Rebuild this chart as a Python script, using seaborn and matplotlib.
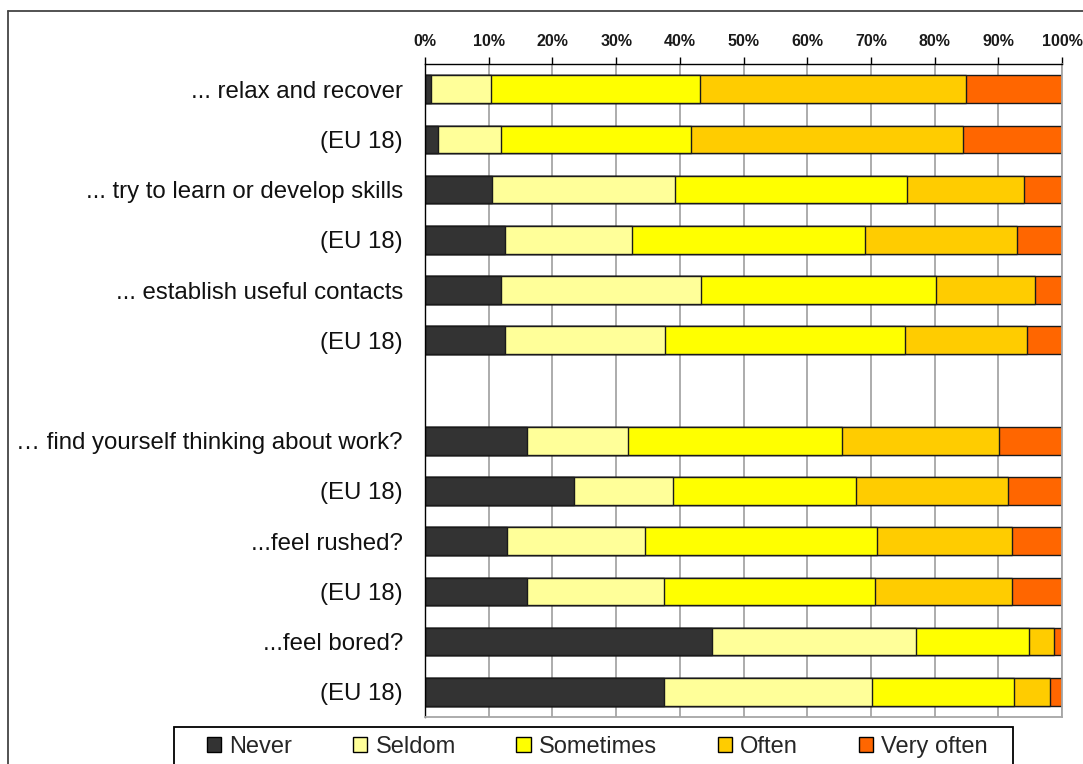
import matplotlib
matplotlib.use("Agg")
import matplotlib.pyplot as plt
from matplotlib.patches import Patch, Rectangle
from matplotlib.lines import Line2D
import seaborn as sns
import pandas as pd
import numpy as np

# ---- data ----
row_labels = [
    "... relax and recover", "(EU 18)",
    "... try to learn or develop skills", "(EU 18)",
    "... establish useful contacts", "(EU 18)",
    "",
    "\u2026 find yourself thinking about work?", "(EU 18)",
    "...feel rushed?", "(EU 18)",
    "...feel bored?", "(EU 18)",
]
categories = ["Never", "Seldom", "Sometimes", "Often", "Very often"]
never      = [0.9, 2.1, 10.5, 12.5, 12.0, 12.5, None, 16.0, 23.4, 12.8, 16.0, 45.0, 37.5]
seldom     = [9.4, 9.9, 28.7, 20.0, 31.4, 25.2, None, 15.8, 15.5, 21.7, 21.5, 32.1, 32.6]
sometimes  = [32.9, 29.7, 36.4, 36.6, 36.8, 37.7, None, 33.6, 28.8, 36.5, 33.1, 17.7, 22.4]
often      = [41.8, 42.7, 18.5, 23.8, 15.6, 19.1, None, 24.7, 23.9, 21.2, 21.6, 4.0, 5.6]
very_often = [15.0, 15.6, 5.9, 7.1, 4.2, 5.5, None, 9.9, 8.4, 7.8, 7.8, 1.2, 1.9]
x_ticks = [0, 10, 20, 30, 40, 50, 60, 70, 80, 90, 100]

colors = ["#333333", "#FFFF99", "#FFFF00", "#FFCC00", "#FF6600"]

# ---- build table ----
keys = [f"r{i}" for i in range(len(row_labels))]
series = [never, seldom, sometimes, often, very_often]
rows = []
for i, k in enumerate(keys):
    if never[i] is None:
        continue
    vals = [s[i] for s in series]
    cum = np.cumsum(vals)
    cum = cum / cum[-1] * 100.0
    rows.append({"key": k, **{c: cum[j] for j, c in enumerate(categories)}})
df = pd.DataFrame(rows)

sns.set_style("white")
plt.rcParams["font.family"] = ["Liberation Sans", "DejaVu Sans"]

W, H = 1083, 764
fig = plt.figure(figsize=(W / 100, H / 100), dpi=100)
ax = fig.add_axes([425 / W, 1 - 717 / H, (1062 - 425) / W, (717 - 64) / H])

for c, col in reversed(list(zip(categories, colors))):
    sns.barplot(data=df, x=c, y="key", order=keys, orient="h", color=col,
                saturation=1, width=0.55, edgecolor="#1a1a1a", linewidth=1.0,
                errorbar=None, ax=ax)

ax.set_xlim(0, 100)
ax.set_ylim(len(keys) - 0.5, -0.5)
ax.xaxis.tick_top()
ax.set_xticks(x_ticks)
ax.set_xticklabels([f"{v}%" for v in x_ticks], fontsize=11.5, fontweight="bold",
                   color="#1a1a1a")
ax.tick_params(axis="x", which="major", direction="out", length=5, width=1,
               color="black", pad=6, top=True, bottom=False)
ax.set_yticks(range(len(keys)))
ax.set_yticklabels(row_labels, fontsize=17.3, color="#111111")
ax.tick_params(axis="y", which="major", length=0, pad=16)
ax.set_yticks([-0.5, 1.5, 3.5, 5.5, 7.5, 9.5, 11.5], minor=True)
ax.tick_params(axis="y", which="minor", direction="out", length=5, width=1, color="black")
ax.set_xlabel("")
ax.set_ylabel("")

ax.grid(axis="x", color="#A6A6A6", linewidth=1.3)
ax.grid(axis="y", visible=False)
ax.set_axisbelow(True)
for side in ["left", "top"]:
    ax.spines[side].set_color("black")
    ax.spines[side].set_linewidth(1.0)
for side in ["right", "bottom"]:
    ax.spines[side].set_color("#A6A6A6")
    ax.spines[side].set_linewidth(1.3)
for s in ax.spines.values():
    s.set_visible(True)

handles = [Patch(facecolor=col, edgecolor="black", linewidth=1.0, label=c)
           for c, col in zip(categories, colors)]
leg = fig.legend(handles=handles, ncol=5, loc="upper left",
                 bbox_to_anchor=(207 / W, 1 - 736 / H),
                 fontsize=17, frameon=False,
                 handlelength=0.6, handleheight=0.6, handletextpad=0.35,
                 columnspacing=2.57, borderpad=0, borderaxespad=0)

# legend box (extends past the bottom edge, as in the reference)
fig.add_artist(Rectangle((174 / W, -0.05), (1013 - 174) / W, (1 - 727 / H) + 0.05,
                         transform=fig.transFigure, facecolor="none",
                         edgecolor="black", linewidth=1.3))

# outer frame
fig.add_artist(Line2D([8 / W, 1.0], [1 - 11 / H, 1 - 11 / H], color="#444444", lw=1.3))
fig.add_artist(Line2D([8 / W, 8 / W], [0.0, 1 - 11 / H], color="#444444", lw=1.3))

fig.savefig("out.png", dpi=100)
